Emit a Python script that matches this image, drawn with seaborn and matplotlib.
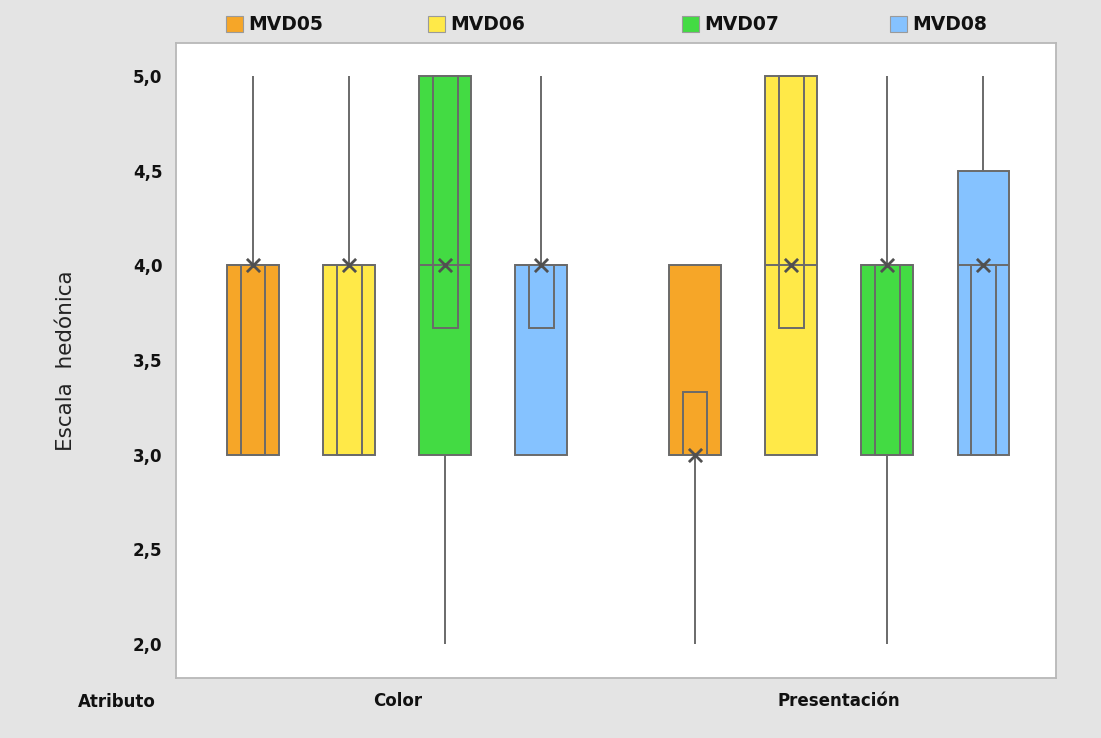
import numpy as np
import pandas as pd
import matplotlib
matplotlib.use("Agg")
import matplotlib.pyplot as plt
from matplotlib.patches import Rectangle, Patch
from matplotlib.ticker import FuncFormatter
import seaborn as sns

# Summary of each hedonic-scale box (order: Color, Presentación; products MVD05..MVD08)
atributos = ["Color", "Presentación"]
productos = ["MVD05", "MVD06", "MVD07", "MVD08"]

bigote_inf = {"Color": [3, 3, 2, 3], "Presentación": [2, 3, 2, 3]}
cuartil_1 = {"Color": [3, 3, 3, 3], "Presentación": [3, 3, 3, 3]}
mediana = {"Color": [4, 4, 4, 4], "Presentación": [3, 4, 4, 4]}
cuartil_3 = {"Color": [4, 4, 5, 4], "Presentación": [4, 5, 4, 4.5]}
bigote_sup = {"Color": [5, 5, 5, 5], "Presentación": [4, 5, 5, 5]}

# 95% interval for the median (inner rectangle)
ic_inf = {"Color": [3, 3, 3.67, 3.67], "Presentación": [3, 3.67, 3, 3]}
ic_sup = {"Color": [4, 4, 5, 4], "Presentación": [3.33, 5, 4, 4]}

# Mean symbol
media = {"Color": [4, 4, 4, 4], "Presentación": [3, 4, 4, 4]}

colores = ["#F6A628", "#FFE948", "#43DB43", "#85C2FF"]
gris = "#6A6A6A"

# Long-format table: the five-number summary of each box as its observations
filas = []
for a in atributos:
    for i, p in enumerate(productos):
        for v in (bigote_inf[a][i], cuartil_1[a][i], mediana[a][i],
                  cuartil_3[a][i], bigote_sup[a][i]):
            filas.append({"Atributo": a, "Producto": p, "Valor": v})
df = pd.DataFrame(filas)

sns.set_theme(style="white")
plt.rcParams["font.family"] = ["DejaVu Sans"]

fig = plt.figure(figsize=(11.01, 7.38), dpi=100, facecolor="#E4E4E4")
ax = fig.add_axes([0.160, 0.081, 0.799, 0.861])
ax.set_facecolor("white")

sns.boxplot(
    data=df, x="Atributo", y="Valor", hue="Producto",
    order=atributos, hue_order=productos, palette=colores,
    width=0.87, gap=0.46, whis=np.inf, showcaps=False,
    saturation=1, linecolor=gris, linewidth=1.4, legend=False, ax=ax,
)

# Box centres and widths, taken from the drawn boxes
cajas = []
for patch in ax.patches:
    verts = patch.get_path().vertices
    x0, x1 = verts[:, 0].min(), verts[:, 0].max()
    cajas.append(((x0 + x1) / 2, x1 - x0))
cajas.sort()

k = 0
for a in atributos:
    for i, p in enumerate(productos):
        cx, bw = cajas[k]
        k += 1
        iw = bw * 0.48
        ax.add_patch(Rectangle((cx - iw / 2, ic_inf[a][i]), iw,
                               ic_sup[a][i] - ic_inf[a][i], fill=False,
                               edgecolor=gris, linewidth=1.4, zorder=4))
        ax.scatter([cx], [media[a][i]], marker="x", s=90, color="#505050",
                   linewidths=2.0, zorder=6)

ax.set_ylim(1.82, 5.175)
ax.set_xlim(-0.5, 1.49)
ax.set_yticks([2.0, 2.5, 3.0, 3.5, 4.0, 4.5, 5.0])
ax.yaxis.set_major_formatter(FuncFormatter(lambda v, _: f"{v:.1f}".replace(".", ",")))

for s in ax.spines.values():
    s.set_visible(True)
    s.set_color("#B8B8B8")
    s.set_linewidth(1.3)

ax.tick_params(axis="both", which="major", length=4, width=1, color="#A8A8A8",
               direction="out", labelsize=12, pad=6)
ax.tick_params(axis="x", pad=6)
for lab in ax.get_yticklabels() + ax.get_xticklabels():
    lab.set_fontweight("bold")
    lab.set_color("#111111")

ax.set_xlabel("")
ax.set_ylabel("Escala  hedónica", fontsize=15.5, color="#222222", labelpad=41)
fig.text(78 / 1101, 1 - 702 / 738, "Atributo", fontsize=12, fontweight="bold",
         color="#111111", ha="left", va="center")

# Legend entries along the top band
posiciones = [226, 428, 682, 890]
for p, c, xp in zip(productos, colores, posiciones):
    h = Patch(facecolor=c, edgecolor="#9A9A9A", linewidth=0.8)
    fig.legend([h], [p], loc="center left",
               bbox_to_anchor=(xp / 1101, 1 - 25 / 738),
               frameon=False, handlelength=0.9, handleheight=1.0,
               handletextpad=0.3, borderpad=0, borderaxespad=0,
               labelcolor="#111111",
               prop={"size": 13.5, "weight": "bold"})

fig.savefig("out.png", dpi=100, facecolor=fig.get_facecolor())
